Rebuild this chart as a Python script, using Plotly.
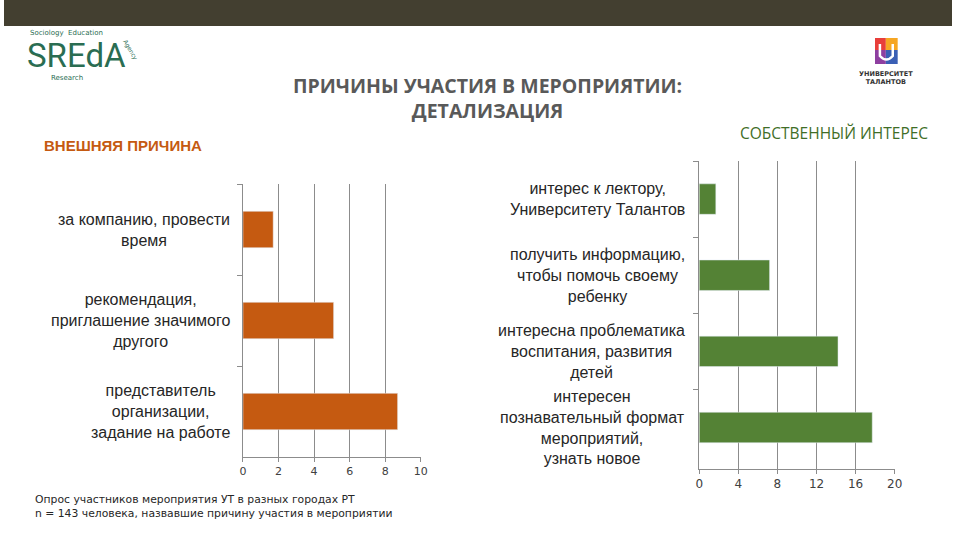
"""Reasons for attending the event: breakdown (external vs own interest)."""

import plotly.graph_objects as go

W, H = 960, 540

# --- data -------------------------------------------------------------
external_reasons = [
    "за компанию, провести<br>время",
    "рекомендация,<br>приглашение значимого<br>другого",
    "представитель<br>организации,<br>задание на работе",
]
external_values = [1.7, 5.1, 8.7]

own_reasons = [
    "интерес к лектору,<br>Университету Талантов",
    "получить информацию,<br>чтобы помочь своему<br>ребенку",
    "интересна проблематика<br>воспитания, развития<br>детей",
    "интересен<br>познавательный формат<br>мероприятий,<br>узнать новое",
]
own_values = [1.7, 7.2, 14.2, 17.7]

external_ticks = [0, 2, 4, 6, 8, 10]
own_ticks = [0, 4, 8, 12, 16, 20]

ORANGE = "#C55A11"
GREEN = "#548235"
DARK_GREEN = "#3f6e27"
GRID = "#8c8c8c"
TEXT = "#262626"


def px_x(x):
    return x / W


def px_y(y):
    return 1 - y / H


def note(x, y, text, font, xanchor="center", align="center", **kw):
    """Place a text at pixel position (x, y) measured from the top-left."""
    fig.add_annotation(
        x=px_x(x), y=px_y(y), xref="paper", yref="paper",
        xanchor=xanchor, yanchor="middle", align=align,
        text=text, showarrow=False, font=font, **kw,
    )


fig = go.Figure()

fig.add_trace(
    go.Bar(
        x=external_values,
        y=external_reasons,
        orientation="h",
        marker_color=ORANGE,
        xaxis="x",
        yaxis="y",
        hoverinfo="x",
    )
)
fig.add_trace(
    go.Bar(
        x=own_values,
        y=own_reasons,
        orientation="h",
        marker_color=GREEN,
        xaxis="x2",
        yaxis="y2",
        hoverinfo="x",
    )
)

axis_common = dict(
    showgrid=True,
    gridcolor=GRID,
    gridwidth=1,
    showline=True,
    linecolor=GRID,
    ticks="outside",
    ticklen=4,
    tickcolor=GRID,
    zeroline=False,
    fixedrange=True,
)
yaxis_common = dict(
    type="category",
    autorange="reversed",
    showline=True,
    linecolor=GRID,
    ticks="outside",
    ticklen=5,
    tickcolor=GRID,
    tickson="boundaries",
    showticklabels=False,
    showgrid=False,
    fixedrange=True,
)

fig.update_layout(
    width=W,
    height=H,
    margin=dict(l=0, r=0, t=0, b=0),
    paper_bgcolor="white",
    plot_bgcolor="white",
    showlegend=False,
    bargap=0.6,
    xaxis=dict(
        axis_common,
        domain=[px_x(242), px_x(422)],
        anchor="y",
        range=[0, 10],
        tickvals=external_ticks,
        tickfont=dict(family="DejaVu Sans", size=11, color="#404040"),
    ),
    yaxis=dict(
        yaxis_common,
        domain=[px_y(457), px_y(184)],
        anchor="x",
    ),
    xaxis2=dict(
        axis_common,
        domain=[px_x(704), px_x(902)],
        anchor="y2",
        range=[0, 20],
        tickvals=own_ticks,
        tickfont=dict(family="DejaVu Sans", size=12, color="#404040"),
    ),
    yaxis2=dict(
        yaxis_common,
        domain=[px_y(469), px_y(161)],
        anchor="x2",
    ),
)

# category labels, centred text to the left of each axis
label_font = dict(family="Liberation Sans", size=16, color=TEXT)
for name in external_reasons:
    fig.add_annotation(
        x=px_x(231), xref="paper", xanchor="right",
        y=name, yref="y", yanchor="middle",
        text=name, showarrow=False, align="center", font=label_font,
    )
for name in own_reasons:
    fig.add_annotation(
        x=px_x(692), xref="paper", xanchor="right",
        y=name, yref="y2", yanchor="middle",
        text=name, showarrow=False, align="center", font=label_font,
    )

# titles and notes
note(490, 98, "<b>ПРИЧИНЫ УЧАСТИЯ В МЕРОПРИЯТИИ:<br>ДЕТАЛИЗАЦИЯ</b>",
     dict(family="Open Sans", size=19.5, color="#595959"))
note(38, 145, "<b>ВНЕШНЯЯ ПРИЧИНА</b>",
     dict(family="Liberation Sans", size=15, color=ORANGE), xanchor="left")
note(938, 133, "СОБСТВЕННЫЙ ИНТЕРЕС",
     dict(family="Open Sans", size=15.5, color=DARK_GREEN), xanchor="right")
note(29, 506,
     "Опрос участников мероприятия УТ в разных городах РТ<br>"
     "n = 143 человека, назвавшие причину участия в мероприятии",
     dict(family="DejaVu Sans", size=10.8, color=TEXT),
     xanchor="left", align="left")

# header band
fig.add_shape(type="rect", xref="paper", yref="paper",
              x0=0, x1=1, y0=px_y(26), y1=1,
              fillcolor="#433f30", line_width=0, layer="below")

# SREdA logo (approximation)
LOGO_GREEN = "#2a6d52"
note(21, 55, "SREdA", dict(family="Roboto", size=33, color=LOGO_GREEN),
     xanchor="left")
note(24, 33, "Sociology  Education",
     dict(family="DejaVu Sans", size=7, color=LOGO_GREEN), xanchor="left")
note(46, 78, "Research",
     dict(family="DejaVu Sans", size=7, color=LOGO_GREEN), xanchor="left")
note(128, 50, "Agency", dict(family="DejaVu Sans", size=6, color=LOGO_GREEN),
     textangle=60)

# Университет Талантов logo (approximation)
shield = [
    ("#e83e3a", 882, 893, 38, 50),
    ("#f6a623", 893, 905, 38, 50),
    ("#8e3fa0", 882, 893, 50, 64),
    ("#3a5fb5", 893, 905, 50, 64),
]
for color, x0, x1, y0, y1 in shield:
    fig.add_shape(type="rect", xref="paper", yref="paper",
                  x0=px_x(x0), x1=px_x(x1), y0=px_y(y1), y1=px_y(y0),
                  fillcolor=color, line_width=0)
fig.add_shape(type="path", xref="paper", yref="paper",
              path=f"M {px_x(887)} {px_y(44)} L {px_x(887)} {px_y(56)} "
              f"Q {px_x(893.5)} {px_y(63)} {px_x(900)} {px_y(56)} "
              f"L {px_x(900)} {px_y(44)}",
              line=dict(color="white", width=2.5))
note(893, 78, "<b>УНИВЕРСИТЕТ<br>ТАЛАНТОВ</b>",
     dict(family="DejaVu Sans", size=6.5, color="#333333"))

fig.write_html(
    "out.html",
    config={"displayModeBar": False},
    post_script="document.body.style.margin='0';"
    "document.body.style.overflow='hidden';",
)
